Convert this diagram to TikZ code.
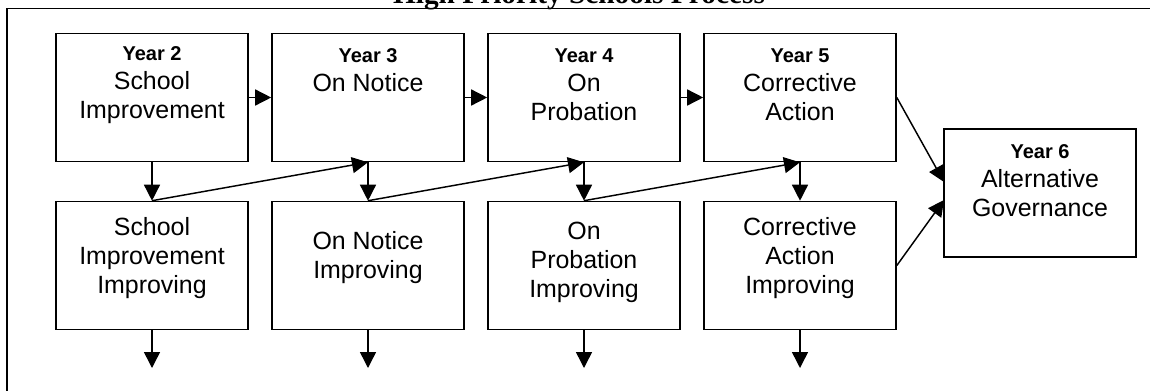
\documentclass[tikz,border=0pt]{standalone}
\usepackage{fontspec}
\setmainfont{Liberation Sans}
\newfontfamily\titlefont{Liberation Serif}
\usetikzlibrary{arrows.meta}
\newcommand\yeartxt[1]{{\bfseries\fontsize{15}{21.75}\selectfont #1}}
\begin{document}
\begin{tikzpicture}[x=0.75pt,y=-0.75pt,
  box/.style={draw=black, line width=1.2pt, minimum width=144pt, minimum height=96pt, inner sep=0pt},
  txt/.style={align=center, font=\fontsize{18.7}{21.75}\selectfont, inner sep=0pt},
  arr/.style={line width=1.1pt, -{Triangle[length=12pt,width=12pt]}},
  frameline/.style={line width=1.3pt}]
\useasboundingbox (0,0) rectangle (1150,390);
\clip (0,0) rectangle (1150,390);
\draw[frameline] (7,400) -- (7,8.5) -- (1160,8.5);
\node[anchor=base, font=\titlefont\bfseries\fontsize{22}{26}\selectfont] (title) at (579,3) {High Priority Schools Process};
% top row
\node[box] (t1) at (152,97.5) {};
\node[box] (t2) at (368,97.5) {};
\node[box] (t3) at (584,97.5) {};
\node[box] (t4) at (800,97.5) {};
% bottom row
\node[box] (b1) at (152,265.5) {};
\node[box] (b2) at (368,265.5) {};
\node[box] (b3) at (584,265.5) {};
\node[box] (b4) at (800,265.5) {};
% year 6
\node[box] (y6) at (1040,193) {};
% texts
\node[txt] (t1x) at (152,85) {\yeartxt{Year 2}\\School\\Improvement};
\node[txt] (t2x) at (368,70.5) {\yeartxt{Year 3}\\On Notice};
\node[txt] (t3x) at (584,85) {\yeartxt{Year 4}\\On\\Probation};
\node[txt] (t4x) at (800,85) {\yeartxt{Year 5}\\Corrective\\Action};
\node[txt] (b1x) at (152,258) {School\\Improvement\\Improving};
\node[txt] (b2x) at (368,257.5) {On Notice\\Improving};
\node[txt] (b3x) at (584,262) {On\\Probation\\Improving};
\node[txt] (b4x) at (800,258) {Corrective\\Action\\Improving};
\node[txt] (y6x) at (1040,181) {\yeartxt{Year 6}\\Alternative\\Governance};
% connectors
\draw[arr] (t1.east) -- (t2.west);
\draw[arr] (t2.east) -- (t3.west);
\draw[arr] (t3.east) -- (t4.west);
\draw[arr] (t1.south) -- (b1.north);
\draw[arr] (t2.south) -- (b2.north);
\draw[arr] (t3.south) -- (b3.north);
\draw[arr] (t4.south) -- (b4.north);
\draw[arr] (b1.north) -- (t2.south);
\draw[arr] (b2.north) -- (t3.south);
\draw[arr] (b3.north) -- (t4.south);
\coordinate (e1) at (152,368);
\coordinate (e2) at (368,368);
\coordinate (e3) at (584,368);
\coordinate (e4) at (800,368);
\draw[arr] (b1.south) -- (e1);
\draw[arr] (b2.south) -- (e2);
\draw[arr] (b3.south) -- (e3);
\draw[arr] (b4.south) -- (e4);
\coordinate (y6a) at (944,182);
\coordinate (y6b) at (944,200);
\draw[arr] (t4.east) -- (y6a);
\draw[arr] (b4.east) -- (y6b);
\end{tikzpicture}
\end{document}
